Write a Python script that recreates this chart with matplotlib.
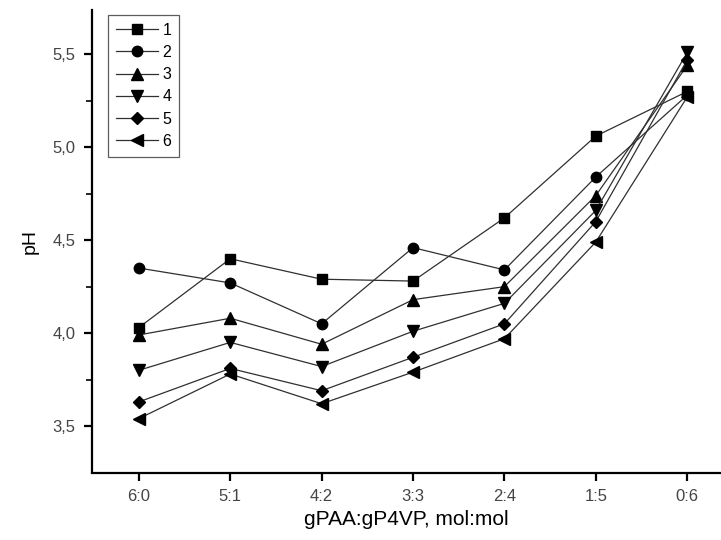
import matplotlib.pyplot as plt

plt.rcParams['font.family'] = ['Liberation Sans', 'DejaVu Sans']

ratios = ['6:0', '5:1', '4:2', '3:3', '2:4', '1:5', '0:6']
ph1 = [4.03, 4.40, 4.29, 4.28, 4.62, 5.06, 5.30]
ph2 = [4.35, 4.27, 4.05, 4.46, 4.34, 4.84, 5.28]
ph3 = [3.99, 4.08, 3.94, 4.18, 4.25, 4.74, 5.44]
ph4 = [3.80, 3.95, 3.82, 4.01, 4.16, 4.66, 5.51]
ph5 = [3.63, 3.81, 3.69, 3.87, 4.05, 4.60, 5.47]
ph6 = [3.54, 3.78, 3.62, 3.79, 3.97, 4.49, 5.27]

series = [ph1, ph2, ph3, ph4, ph5, ph6]
markers = ['s', 'o', '^', 'v', 'D', '<']
sizes = [7, 7.5, 8, 8, 6.5, 8]

fig = plt.figure(figsize=(7.21, 5.40), dpi=100)
ax = fig.add_axes([0.128, 0.125, 0.872, 0.857])

x = list(range(len(ratios)))
for i, (ys, m) in enumerate(zip(series, markers)):
    ax.plot(x, ys, color='#303030', lw=0.9, marker=m, ms=sizes[i],
            mfc='black', mec='black', label=str(i + 1))

ax.set_xlim(-0.51, 6.37)
ax.set_ylim(3.25, 5.74)
ax.set_xticks(x)
ax.set_xticklabels(ratios)
ax.set_yticks([3.5, 4.0, 4.5, 5.0, 5.5])
ax.set_yticklabels(['3,5', '4,0', '4,5', '5,0', '5,5'])
ax.set_yticks([3.75, 4.25, 4.75, 5.25], minor=True)

for s in ['top', 'right']:
    ax.spines[s].set_visible(False)
for s in ['left', 'bottom']:
    ax.spines[s].set_linewidth(1.6)
ax.tick_params(which='major', direction='out', length=6, width=1.6,
               labelsize=12, labelcolor='#444444', pad=6)
ax.tick_params(which='minor', direction='out', length=4, width=1.2)

ax.set_xlabel('gPAA:gP4VP, mol:mol', fontsize=15, labelpad=4)
ax.set_ylabel('pH', fontsize=14, labelpad=10)

leg = ax.legend(loc='upper left', bbox_to_anchor=(0.025, 0.989), fontsize=11.5,
                frameon=True, fancybox=False, edgecolor='#333333',
                handlelength=2.6, handletextpad=0.3, labelspacing=0.45,
                borderpad=0.5, borderaxespad=0)
leg.get_frame().set_linewidth(0.9)

fig.savefig('out.png', dpi=100)
